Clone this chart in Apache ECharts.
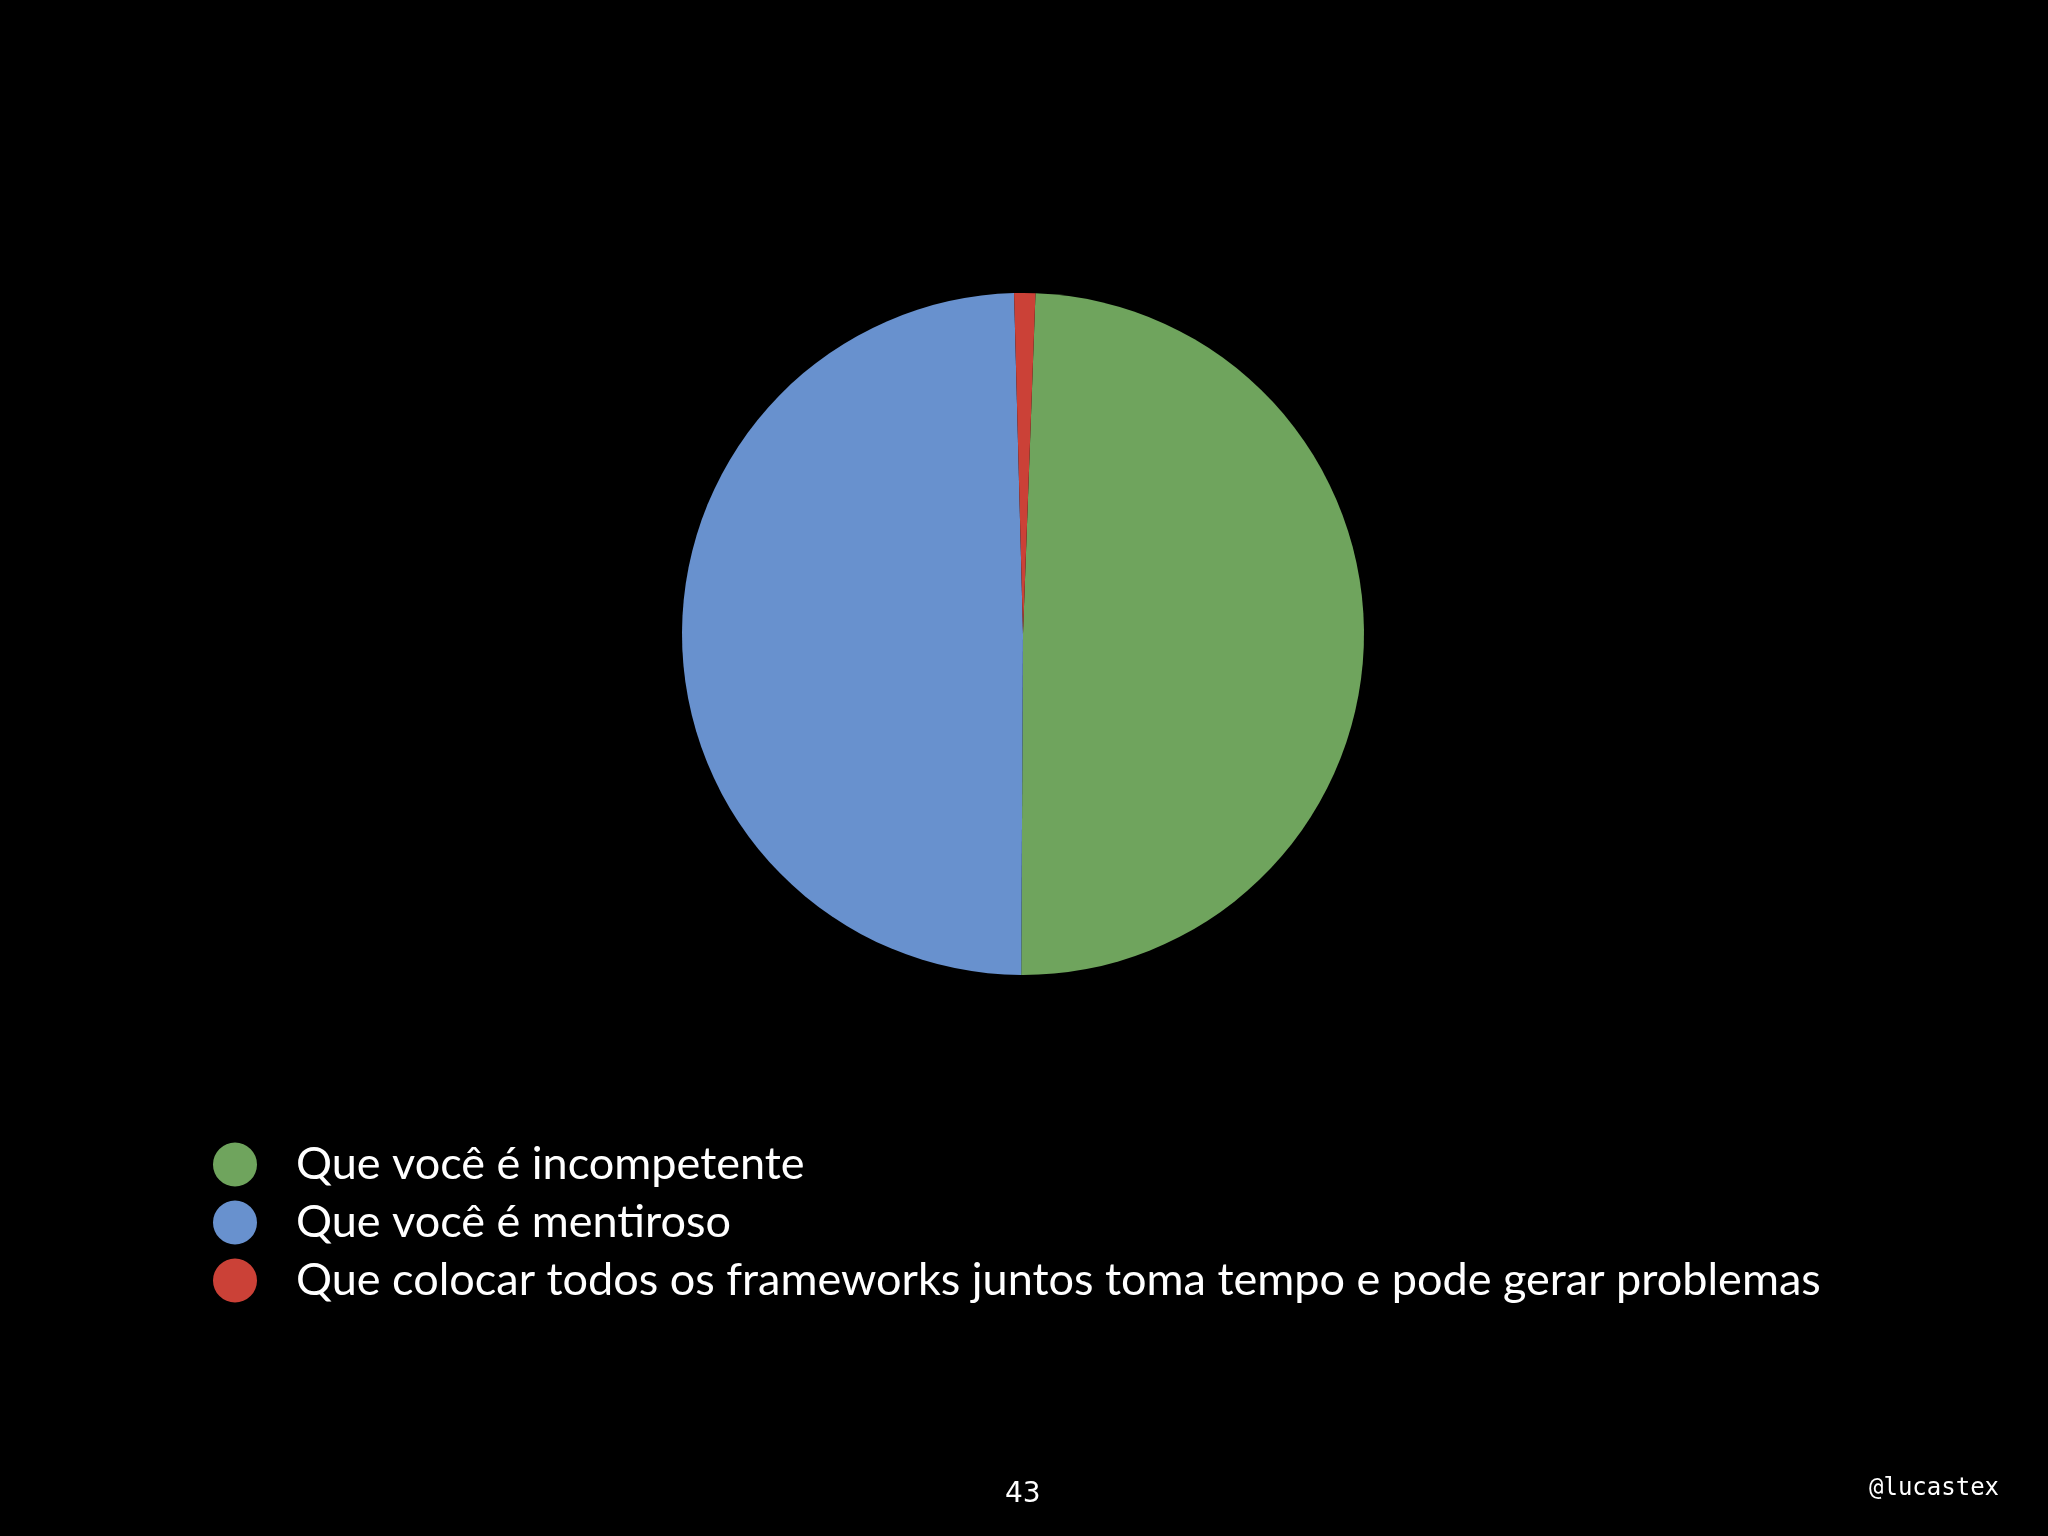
<!DOCTYPE html>
<html>
<head>
<meta charset="utf-8">
<script src="https://cdn.jsdelivr.net/npm/echarts@6/dist/echarts.min.js"></script>
<style>
html,body{margin:0;padding:0;background:#000;}
#chart{width:2048px;height:1536px;}
</style>
</head>
<body>
<div id="chart"></div>
<script>
const categories = [
  "Que você é incompetente",
  "Que você é mentiroso",
  "Que colocar todos os frameworks juntos toma tempo e pode gerar problemas"
];
const values = [49.5, 49.5, 1];
const colors = ["#6FA45D", "#6891CE", "#CB4137"];
const pageNumber = "43";
const handle = "@lucastex";

const chart = echarts.init(document.getElementById('chart'));
chart.setOption({
  backgroundColor: '#000000',
  animation: false,
  color: colors,
  legend: {
    orient: 'vertical',
    left: 208,
    top: 1137,
    icon: 'circle',
    itemWidth: 44,
    itemHeight: 44,
    itemGap: 13,
    data: categories,
    textStyle: {
      color: '#ffffff',
      fontSize: 45,
      lineHeight: 44,
      fontFamily: 'Lato',
      padding: [0, 0, 0, 34]
    }
  },
  graphic: [
    {
      type: 'text',
      left: 1005,
      top: 1481,
      style: { text: pageNumber, fill: '#ffffff', fontSize: 28, fontFamily: 'DejaVu Sans' }
    },
    {
      type: 'text',
      left: 1869,
      top: 1477,
      style: { text: handle, fill: '#ffffff', fontSize: 24, fontFamily: 'DejaVu Sans Mono' }
    }
  ],
  series: [{
    type: 'pie',
    center: [1023, 634],
    radius: 341,
    startAngle: 87.9,
    clockwise: true,
    label: { show: false },
    labelLine: { show: false },
    itemStyle: { borderWidth: 0 },
    emphasis: { disabled: true },
    data: categories.map((c, i) => ({ name: c, value: values[i] }))
  }]
});
</script>
</body>
</html>
